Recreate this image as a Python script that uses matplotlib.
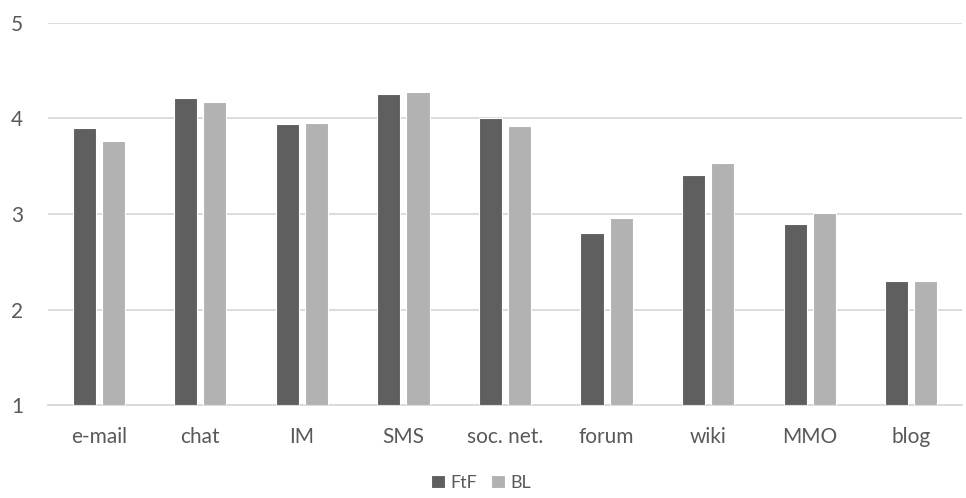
import numpy as np
import matplotlib.pyplot as plt

# Дані
categories = ['e-mail', 'chat', 'IM', 'SMS', 'soc. net.', 'forum', 'wiki', 'MMO', 'blog']
ftf = [3.90, 4.21, 3.94, 4.26, 4.00, 2.80, 3.41, 2.90, 2.30]
bl = [3.76, 4.17, 3.95, 4.28, 3.92, 2.96, 3.53, 3.01, 2.30]

plt.rcParams['font.family'] = ['Lato', 'DejaVu Sans']

fig = plt.figure(figsize=(9.66, 4.98), dpi=100)
ax = fig.add_axes([48 / 966, 1 - 405 / 498, 914 / 966, 382 / 498])

x = np.arange(len(categories))
w = 0.227
gap = 0.06
ax.bar(x - (w + gap) / 2, np.array(ftf) - 1, w, bottom=1, color='#5f5f5f',
       edgecolor='white', linewidth=0.8, label='FtF', zorder=3)
ax.bar(x + (w + gap) / 2, np.array(bl) - 1, w, bottom=1, color='#b2b2b2',
       edgecolor='white', linewidth=0.8, label='BL', zorder=3)

ax.set_ylim(1, 5)
ax.set_xlim(-0.5, len(categories) - 0.5)
ax.set_yticks([1, 2, 3, 4, 5])
ax.set_xticks(x)
ax.set_xticklabels(categories)
ax.yaxis.grid(True, color='#d9d9d9', linewidth=1.3, zorder=0)
for s in ['top', 'right', 'left']:
    ax.spines[s].set_visible(False)
ax.spines['bottom'].set_color('#d9d9d9')
ax.spines['bottom'].set_linewidth(1.3)
ax.tick_params(axis='both', length=0, colors='#595959', labelsize=15)
ax.tick_params(axis='x', pad=16)
ax.tick_params(axis='y', pad=18)

leg = fig.legend(loc='center', bbox_to_anchor=(481 / 966, 1 - 483 / 498), ncol=2,
                 frameon=False, fontsize=13, handlelength=0.75, handleheight=0.75,
                 handletextpad=0.3, columnspacing=0.8, labelcolor='#595959')

plt.savefig('out.png', dpi=100)
